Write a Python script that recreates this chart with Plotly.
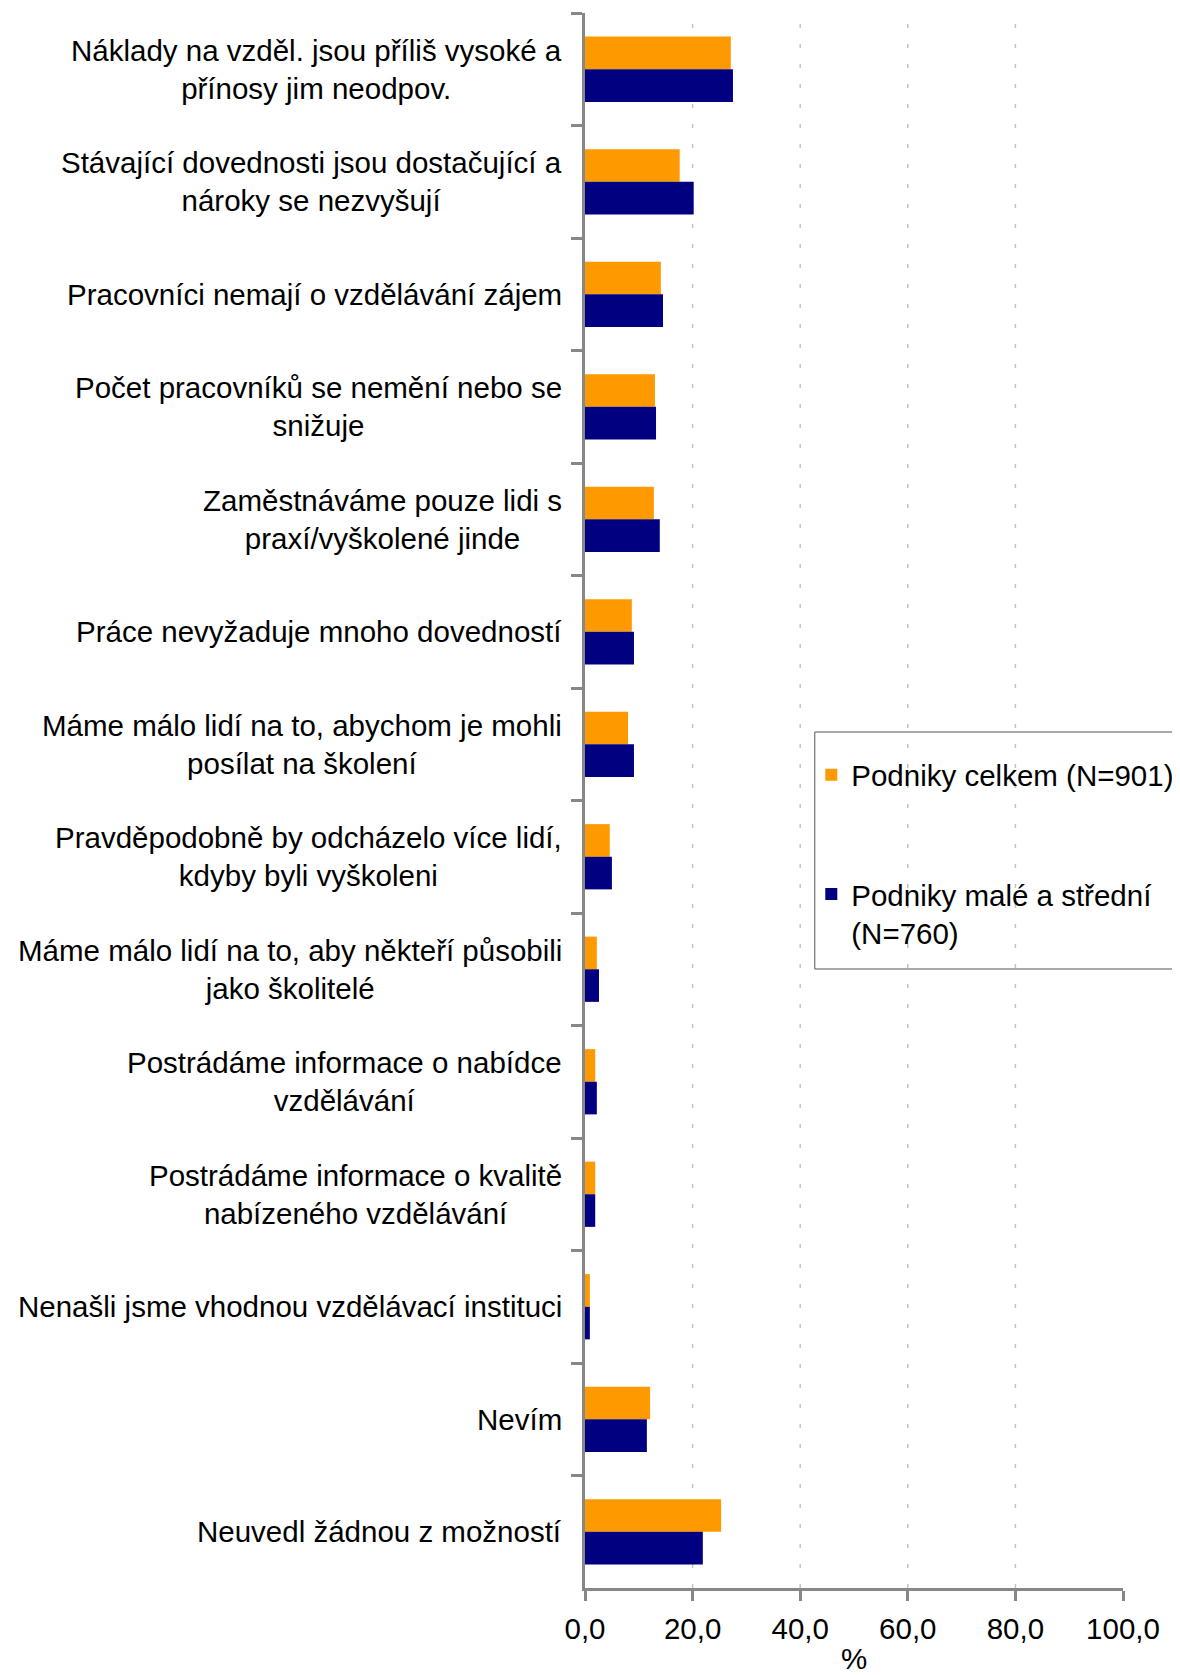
import plotly.graph_objects as go

categories = [
    "Náklady na vzděl. jsou příliš vysoké a<br>přínosy jim neodpov.",
    "Stávající dovednosti jsou dostačující a<br>nároky se nezvyšují",
    "Pracovníci nemají o vzdělávání zájem",
    "Počet pracovníků se nemění nebo se<br>snižuje",
    "Zaměstnáváme pouze lidi s<br>praxí/vyškolené jinde",
    "Práce nevyžaduje mnoho dovedností",
    "Máme málo lidí na to, abychom je mohli<br>posílat na školení",
    "Pravděpodobně by odcházelo více lidí,<br>kdyby byli vyškoleni",
    "Máme málo lidí na to, aby někteří působili<br>jako školitelé",
    "Postrádáme informace o nabídce<br>vzdělávání",
    "Postrádáme informace o kvalitě<br>nabízeného vzdělávání",
    "Nenašli jsme vhodnou vzdělávací instituci",
    "Nevím",
    "Neuvedl žádnou z možností",
]
celkem = [27.1, 17.6, 14.1, 13.0, 12.8, 8.7, 8.0, 4.6, 2.2, 1.9, 1.9, 0.9, 12.1, 25.3]
male_stredni = [27.5, 20.2, 14.5, 13.2, 13.9, 9.1, 9.1, 5.0, 2.6, 2.2, 1.9, 0.9, 11.5, 21.9]
series_names = ["Podniky celkem (N=901)", "Podniky malé a střední<br>(N=760)"]
x_ticks = [0, 20, 40, 60, 80, 100]
grid_vals = [20, 40, 60, 80]
x_title = "%"

FONT = "Liberation Sans, Arial, sans-serif"
FS = 29.5
AXIS = "#878787"

OFF = 8  # default body margin of the html page
W, H = 1180 - OFF, 1675 - OFF
# plot area in page pixels
PL, PR, PT, PB = 585, 1123.5, 13, 1588
L = PL - OFF
T = PT - OFF
R = W - (PR - OFF)
B = H - (PB - OFF)
pw = W - L - R
ph = H - T - B

def px_x(p):
    return (p - OFF - L) / pw

def px_y(p):
    return (H - B - (p - OFF)) / ph

fig = go.Figure()
fig.add_trace(go.Bar(y=categories, x=celkem, orientation="h", name=series_names[0],
                     marker=dict(color="#FF9900", line=dict(width=0)), legendgroup="a"))
fig.add_trace(go.Bar(y=categories, x=male_stredni, orientation="h", name=series_names[1],
                     marker=dict(color="#000080", line=dict(width=0)), legendgroup="b"))

shapes = []
for g in grid_vals:
    shapes.append(dict(type="line", xref="x", yref="paper", x0=g, x1=g, y0=0, y1=1,
                       line=dict(color="#c4c4c4", width=1.5, dash="4px,16px"), layer="below"))
shapes.append(dict(type="rect", xref="paper", yref="paper",
                   x0=px_x(815), x1=px_x(1179), y0=px_y(969), y1=px_y(732),
                   line=dict(color="#555555", width=1), fillcolor="rgba(0,0,0,0)"))

annotations = []
for c in categories:
    annotations.append(dict(x=0, xref="paper", y=c, yref="y", text=c, showarrow=False,
                            xanchor="right", xshift=-21, align="center",
                            font=dict(family=FONT, size=FS, color="black")))

fig.update_layout(
    width=W, height=H,
    margin=dict(l=L, r=R, t=T, b=B, pad=0, autoexpand=False),
    paper_bgcolor="white", plot_bgcolor="white",
    barmode="group", bargap=0.42, bargroupgap=0,
    separators=", ",
    font=dict(family=FONT, size=FS, color="black"),
    shapes=shapes,
    annotations=annotations,
    showlegend=True,
    legend=dict(x=px_x(811.5), xanchor="left", y=px_y(749), yanchor="top",
                font=dict(family=FONT, size=FS, color="black"),
                bgcolor="rgba(0,0,0,0)", borderwidth=0,
                traceorder="grouped", tracegroupgap=78, valign="top"),
)
fig.update_xaxes(range=[0, 100], tickvals=x_ticks, tickformat=".1f", showgrid=False,
                 showline=True, linecolor=AXIS, linewidth=3,
                 ticks="outside", ticklen=10, tickwidth=3, tickcolor=AXIS,
                 tickfont=dict(family=FONT, size=FS, color="black"),
                 ticklabelstandoff=3,
                 zeroline=False, automargin=False,
                 title=dict(text=x_title, font=dict(family=FONT, size=FS, color="black"), standoff=12))
fig.update_yaxes(type="category", categoryorder="array", categoryarray=categories,
                 autorange="reversed", showline=True, linecolor=AXIS, linewidth=3,
                 ticks="outside", tickson="boundaries", ticklen=11, tickwidth=3, tickcolor=AXIS,
                 showticklabels=False, showgrid=False, zeroline=False, automargin=False)

fig.write_html("out.html")
